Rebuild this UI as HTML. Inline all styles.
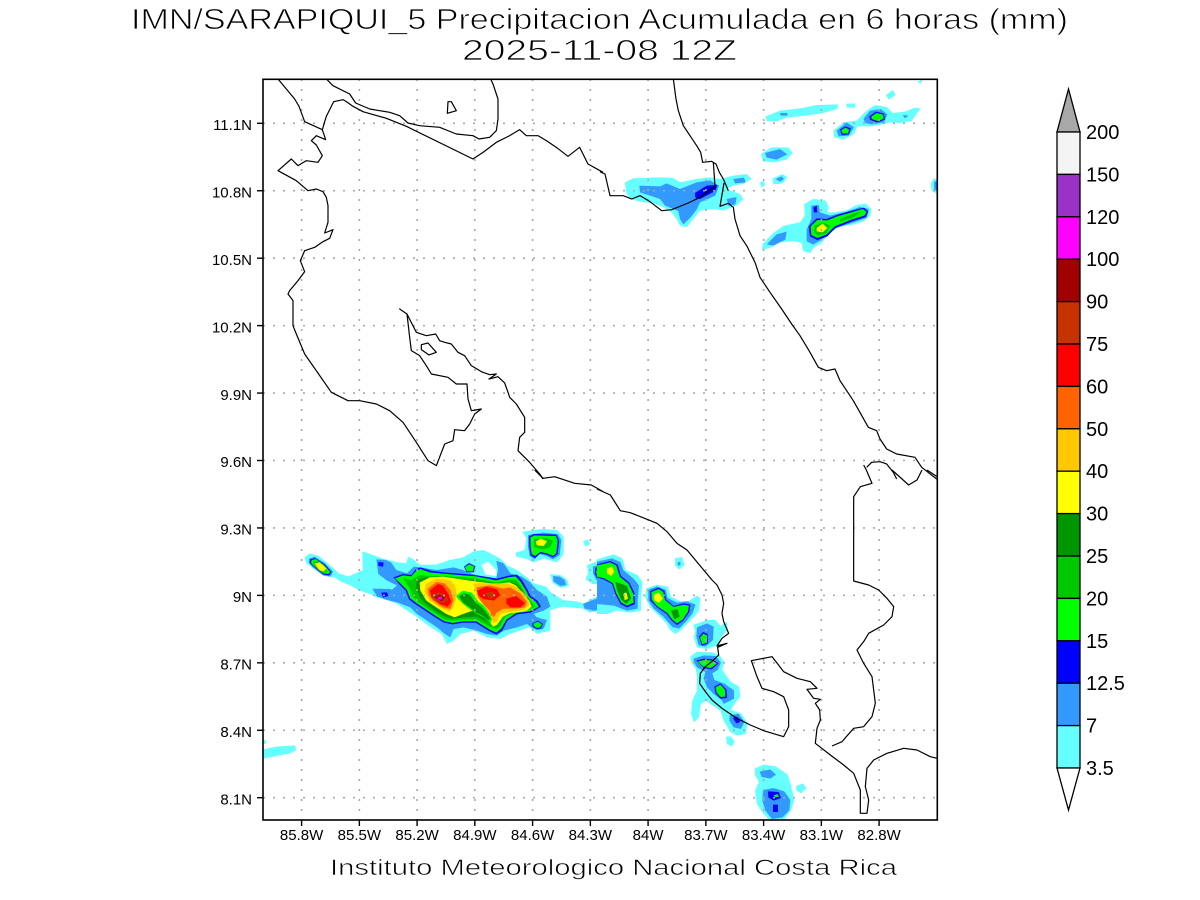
<!DOCTYPE html>
<html><head><meta charset="utf-8"><style>
html,body{margin:0;padding:0;background:#fff}
svg{display:block}
.c1{fill:#66ffff}.c2{fill:#3399ff}.c3{fill:#0000ff}.c4{fill:#00ff00}.c5{fill:#00c800}.c6{fill:#009600}
.c7{fill:#ffff00}.c8{fill:#ffc800}.c9{fill:#ff6400}.c10{fill:#ff0000}.c11{fill:#c83200}.c12{fill:#a00000}.c13{fill:#ff00ff}.cw{fill:#ffffff}
.coast{fill:none;stroke:#000;stroke-width:3.6;stroke-linejoin:round}
.grid{stroke:#a8a8a8;stroke-width:1.6;stroke-dasharray:2 8}
text{font-family:"Liberation Sans",sans-serif;fill:#000}
.thin{stroke:#fff;stroke-width:0.8}
.thinf{stroke:#fff;stroke-width:0.6}
</style></head><body>
<svg width="1200" height="900" viewBox="0 0 1200 900" xmlns="http://www.w3.org/2000/svg">
<rect width="1200" height="900" fill="#fff"/>
<defs><clipPath id="clip"><rect x="263" y="79.3" width="674.3" height="740.7"/></clipPath></defs>

<!-- Titles -->
<text class="thin" x="131" y="29" font-size="29" textLength="937" lengthAdjust="spacingAndGlyphs">IMN/SARAPIQUI_5 Precipitacion Acumulada en 6 horas (mm)</text>
<text class="thin" x="462" y="60" font-size="29" textLength="275" lengthAdjust="spacingAndGlyphs">2025-11-08 12Z</text>
<text class="thinf" x="330" y="875" font-size="22" textLength="567" lengthAdjust="spacingAndGlyphs">Instituto Meteorologico Nacional Costa Rica</text>

<g clip-path="url(#clip)">
<!-- Z10 precip top-right -->
<g transform="translate(600,79) scale(0.33333)">
<polygon class="c1" points="75,310 100,298 180,295 220,297 240,310 290,300 330,295 360,300 400,290 440,285 455,300 430,315 400,320 380,330 420,345 430,360 410,380 370,395 340,390 300,395 280,420 260,445 240,440 230,420 215,400 190,385 165,375 120,368 90,360 78,340"/>
<polygon class="c1" points="480,310 492,305 495,320 483,325"/>
<polygon class="c1" points="518,298 548,285 562,295 548,313 520,316"/>
<polygon class="c1" points="483,225 515,205 565,205 578,222 560,242 520,250 490,247"/>
<polygon class="c1" points="497,112 540,95 600,88 650,78 715,76 712,90 670,102 620,110 560,116 530,127 500,126"/>
<polygon class="c1" points="740,74 766,73 766,86 740,86"/>
<polygon class="c1" points="700,155 730,130 770,125 800,95 825,78 860,84 878,102 915,98 945,86 962,88 946,110 935,126 900,132 870,130 840,138 810,142 772,142 762,165 732,182 703,175"/>
<polygon class="c1" points="858,48 878,33 887,48 866,62"/>
<polygon class="c1" points="952,8 968,2 962,15"/>
<polygon class="c1" points="1000,300 1020,295 1020,350 995,335 992,315"/>
<polygon class="c1" points="488,495 520,462 552,440 600,430 614,410 613,375 640,360 677,365 686,385 682,400 702,400 740,394 770,378 797,374 814,390 810,412 790,427 760,437 720,442 700,452 680,472 665,492 640,507 632,522 610,517 605,492 580,486 540,490 510,507 486,512"/>
<polygon class="c2" points="118,320 180,322 200,313 240,330 290,310 330,304 357,320 346,350 300,370 290,392 270,417 250,436 240,420 235,396 210,386 195,380 180,360 150,350 120,340"/>
<polygon class="c2" points="400,300 432,296 437,310 405,313"/>
<polygon class="c2" points="380,360 410,354 406,376 386,381"/>
<polygon class="c2" points="527,300 545,292 552,300 540,308"/>
<polygon class="c2" points="495,222 540,210 562,226 530,242 500,236"/>
<polygon class="c2" points="540,102 562,102 562,110 542,110"/>
<polygon class="c2" points="710,155 740,130 762,145 746,170 716,172"/>
<polygon class="c2" points="790,120 810,95 842,90 862,106 852,130 816,136 796,132"/>
<polygon class="c2" points="908,108 925,110 915,118"/>
<polygon class="c2" points="1002,308 1020,305 1020,340 1003,332"/>
<polygon class="c2" points="500,496 530,466 560,458 556,482 520,500"/>
<polygon class="c2" points="620,452 634,420 634,380 656,378 660,400 690,410 740,398 780,384 806,390 801,416 770,427 710,447 690,462 665,482 640,497 620,487"/>
<polygon class="c3" points="285,342 320,320 352,318 346,336 300,360 286,356"/>
<polygon class="c3" points="720,152 736,142 752,148 747,166 726,168"/>
<polygon class="c3" points="808,112 828,98 852,104 855,122 830,130 810,122"/>
<polygon class="c3" points="626,442 650,418 680,420 710,408 752,396 792,386 805,398 797,414 756,427 706,447 682,472 652,483 630,472"/>
<polygon class="c3" points="640,385 650,380 652,400 642,400"/>
<polygon class="c4" points="724,153 737,146 748,152 744,163 728,164"/>
<polygon class="c4" points="814,112 830,102 850,107 850,120 832,126 815,120"/>
<polygon class="c4" points="632,442 652,423 682,424 712,412 754,400 788,390 800,399 793,410 754,422 704,442 680,466 652,477 634,468"/>
<polygon class="c5" points="645,440 670,430 690,440 680,462 655,470 642,460"/>
<polygon class="c5" points="720,420 770,400 785,398 760,415 720,428"/>
<polygon class="c7" points="650,447 668,434 682,447 668,460 650,457"/>
</g>

<!-- Z11 precip bottom-left -->
<g transform="translate(263,470) scale(0.33333)">
<polygon class="c1" points="125,262 140,250 168,258 200,285 228,310 258,320 272,336 262,346 236,336 214,322 185,318 160,302 130,280"/>
<polygon class="c1" points="298,244 330,255 360,266 400,276 430,280 435,260 452,268 470,284 520,284 560,270 600,262 632,244 662,240 692,255 712,266 732,286 762,300 792,322 812,340 850,350 862,366 900,390 940,394 962,400 1000,380 1020,372 1020,422 980,428 960,416 900,410 862,420 862,482 822,492 800,472 770,482 740,492 712,507 672,502 632,482 592,492 572,512 552,522 536,492 500,470 460,440 430,420 400,400 370,390 340,382 320,372 290,362 262,346 272,336 256,320 300,300"/>
<polygon class="cw" points="655,285 675,275 700,300 700,318 668,314"/>
<polygon class="c1" points="778,185 840,177 882,180 902,200 902,252 882,277 842,266 812,277 790,267 760,260 758,248 785,240 790,205"/>
<polygon class="c1" points="960,215 975,208 982,222 968,230"/>
<polygon class="c1" points="972,285 1020,268 1020,342 988,342 968,328 975,310"/>
<polygon class="c1" points="862,312 892,315 912,328 918,348 892,354 868,338"/>
<polygon class="c1" points="0,838 40,830 96,826 100,840 82,850 32,860 0,866"/>
<polygon class="c1" points="0,808 10,812 8,822 0,822"/>
<polygon class="c2" points="138,266 155,260 186,280 210,305 202,320 180,316 150,292 137,278"/>
<polygon class="c3" points="142,268 156,264 184,282 206,306 198,316 180,313 152,290 140,279"/>
<polygon class="c4" points="146,270 158,267 182,284 202,306 196,312 180,310 154,289 144,279"/>
<polygon class="c5" points="150,276 165,273 186,292 192,306 180,308 160,294"/>
<polygon class="c7" points="155,280 170,277 190,295 182,305 168,300"/>
<polygon class="c2" points="340,268 368,270 385,278 400,300 432,310 452,290 472,292 520,300 572,292 600,300 640,316 700,325 705,300 700,272 722,280 742,310 776,320 800,336 822,360 852,380 862,410 842,422 812,432 822,442 852,450 842,476 812,477 792,462 762,472 722,482 702,497 672,492 642,482 602,472 572,477 562,502 546,492 522,472 492,452 462,432 442,412 402,397 362,387 332,362 352,356 386,360 402,346 372,332 346,312"/>
<polygon class="c2" points="328,356 382,357 402,372 422,390 392,392 342,380"/>
<polygon class="c2" points="960,402 1000,386 1020,380 1020,420 990,422 965,416"/>
<polygon class="c2" points="795,195 840,188 885,192 895,210 890,255 870,268 850,258 830,252 815,268 800,258 795,230"/>
<polygon class="c2" points="990,290 1020,280 1020,332 1000,330 990,310"/>
<polygon class="c2" points="870,318 890,320 905,330 910,345 892,348 872,335"/>
<polygon class="c3" points="355,368 372,367 376,378 360,382"/>
<polygon class="c3" points="346,276 362,278 360,290 346,288"/>
<polygon class="c3" points="798,200 812,192 880,194 888,212 884,252 870,262 852,254 832,250 816,264 803,256 799,230"/>
<polygon class="c4" points="802,202 814,196 878,198 884,212 880,250 870,258 852,250 832,246 816,258 806,252 803,230"/>
<polygon class="c5" points="812,208 850,204 870,212 862,232 840,238 815,232"/>
<polygon class="c7" points="818,215 834,206 852,214 842,228 822,226"/>
<polygon class="c3" points="998,293 1020,286 1020,326 1002,324 995,310"/>
<polygon class="c4" points="1002,296 1020,290 1020,322 1005,320 999,308"/>
<polygon class="c3" points="392,322 420,312 445,315 458,298 472,292 502,302 542,307 602,312 642,316 702,326 742,316 762,314 778,332 793,358 803,378 823,392 834,410 803,428 762,433 733,452 718,482 700,493 678,483 638,458 600,458 570,463 543,458 518,443 488,423 458,403 438,388 428,362 408,342"/>
<polygon class="c4" points="396,325 420,316 445,319 460,302 472,297 500,307 540,311 600,316 640,319 700,331 740,321 758,319 773,336 788,360 798,380 818,395 828,410 800,424 760,429 730,449 715,476 700,488 680,479 640,454 600,454 570,459 545,454 520,439 490,419 460,399 441,384 432,360 412,340"/>
<polygon class="c5" points="420,325 445,330 470,315 500,318 540,318 600,322 640,326 700,338 740,328 760,330 775,350 790,375 805,395 815,410 795,420 760,425 725,442 712,468 700,478 680,470 640,448 600,448 570,452 545,448 520,432 490,412 465,395 448,378 440,355"/>
<polygon class="c6" points="460,330 490,322 540,322 600,328 640,332 700,342 745,336 765,345 785,372 800,398 805,410 790,418 755,422 722,436 708,462 698,470 682,460 640,440 600,442 572,446 548,440 520,425 492,405 472,385 460,355"/>
<polygon class="c7" points="470,338 500,322 540,320 580,326 620,332 660,337 700,342 740,337 760,347 780,372 798,392 806,410 790,423 740,430 720,440 702,465 690,470 676,450 660,432 630,422 600,432 575,442 550,432 520,412 490,392 472,362"/>
<polygon class="c4" points="578,378 600,362 626,368 646,395 662,406 672,420 692,440 682,460 662,442 642,432 620,417 600,402"/>
<polygon class="c6" points="588,380 602,370 620,374 638,398 655,410 668,425 682,445 676,452 660,438 640,428 620,412 600,398"/>
<polygon class="c8" points="488,342 520,326 560,330 576,346 582,376 572,410 560,426 530,412 500,392 484,366"/>
<polygon class="c8" points="632,340 680,340 730,340 760,350 790,376 800,405 782,420 740,426 712,432 702,455 692,460 680,432 660,402 642,382"/>
<polygon class="c9" points="494,356 520,336 545,340 562,360 572,390 562,417 540,412 510,392 497,376"/>
<polygon class="c10" points="500,362 525,342 540,347 556,372 565,396 554,410 530,402 506,382"/>
<polygon class="c11" points="505,378 525,366 545,374 556,390 542,400 515,392"/>
<polygon class="c12" points="514,382 530,374 546,384 536,394"/>
<polygon class="c13" points="524,381 536,380 537,388 525,388"/>
<polygon class="c9" points="640,352 680,346 720,356 742,352 772,370 792,396 786,412 760,416 722,416 702,427 692,442 680,422 660,402 646,382"/>
<polygon class="c10" points="642,362 670,350 702,358 712,376 692,392 660,387 646,376"/>
<polygon class="c10" points="730,386 760,378 786,400 772,412 742,412 730,400"/>
<polygon class="c11" points="664,370 690,364 702,378 682,387"/>
<polygon class="c9" points="682,420 694,422 694,436 684,436"/>
<polygon class="c2" points="602,290 618,278 638,288 634,308 610,308"/>
<polygon class="c3" points="604,290 618,280 636,289 632,306 611,306"/>
<polygon class="c4" points="606,291 619,283 633,290 630,304 612,304"/>
<polygon class="c2" points="805,460 825,448 845,460 838,478 820,480 806,472"/>
<polygon class="c3" points="808,460 825,452 840,462 834,475 822,477 809,470"/>
<polygon class="c4" points="811,461 825,455 837,463 831,472 822,474 812,468"/>
</g>

<!-- Z12 precip bottom-right -->
<g transform="translate(597,470) scale(0.33333)">
<polygon class="c1" points="0,268 50,253 76,265 86,300 122,315 136,336 132,385 132,422 100,428 60,422 30,432 0,432"/>
<polygon class="c2" points="0,275 45,265 70,276 80,302 110,326 126,346 122,390 122,416 90,422 50,407 0,402"/>
<polygon class="c3" points="0,283 40,273 62,284 72,318 97,338 112,368 114,402 90,412 70,402 55,372 45,342 20,328 0,322"/>
<polygon class="c4" points="0,286 40,277 58,287 68,320 94,341 108,370 110,398 90,407 73,398 58,370 48,340 22,325 0,320"/>
<polygon class="c6" points="55,335 90,348 102,385 88,402 72,388 60,360"/>
<polygon class="c7" points="30,295 45,290 52,305 43,318 30,310"/>
<polygon class="c7" points="80,370 88,367 93,386 83,391"/>
<polygon class="c1" points="148,355 180,344 212,350 222,380 250,394 275,393 300,377 310,385 306,421 291,441 271,461 251,481 236,492 220,481 209,461 179,431 159,411 144,381"/>
<polygon class="c2" points="154,359 180,349 206,359 212,384 240,398 270,394 296,404 286,431 266,456 246,476 226,471 200,441 170,416 154,391"/>
<polygon class="c3" points="160,363 185,353 202,363 207,388 230,408 260,400 280,404 277,426 259,452 240,465 224,452 209,432 180,412 160,391"/>
<polygon class="c4" points="163,366 185,357 199,366 204,390 230,411 260,404 276,407 273,425 257,449 240,460 226,449 211,429 181,409 164,389"/>
<polygon class="c6" points="222,422 242,417 248,440 232,448"/>
<polygon class="c7" points="170,375 185,367 198,385 186,399 172,391"/>
<polygon class="c1" points="234,265 255,261 263,285 246,299 234,286"/>
<polygon class="c2" points="242,276 250,276 250,286 242,286"/>
<polygon class="c1" points="288,465 330,450 356,450 370,468 390,455 392,480 372,502 362,526 330,537 300,532 290,502 295,482"/>
<polygon class="c2" points="300,472 330,460 350,470 348,510 326,530 305,526 298,500"/>
<polygon class="c3" points="306,500 318,486 332,492 333,520 315,527"/>
<polygon class="c4" points="309,503 319,491 330,496 330,518 316,523"/>
<polygon class="c1" points="280,560 300,545 345,547 367,555 382,576 376,600 400,634 426,650 430,680 412,702 402,720 432,730 452,760 446,792 420,797 400,786 380,752 370,722 340,702 326,692 312,702 306,742 291,757 282,732 286,692 300,662 300,622 296,596 284,580"/>
<polygon class="c2" points="290,566 320,556 356,558 372,578 362,600 346,610 352,630 382,641 411,661 411,686 392,696 380,702 374,690 350,672 330,652 320,626 325,606 300,592 290,576"/>
<polygon class="c3" points="298,572 320,566 345,568 365,580 344,598 320,594"/>
<polygon class="c4" points="302,575 320,570 343,571 360,580 342,594 320,591"/>
<polygon class="c3" points="352,650 370,640 388,658 390,684 370,686 356,670"/>
<polygon class="c4" points="356,652 370,644 384,660 385,680 371,681 359,668"/>
<polygon class="c2" points="398,736 425,731 442,756 432,777 410,772 397,752"/>
<polygon class="c3" points="408,744 421,740 430,756 418,760"/>
<polygon class="c1" points="387,800 401,799 413,815 405,830 390,822"/>
<polygon class="c1" points="474,895 500,884 536,889 572,914 582,946 592,990 582,1022 562,1048 520,1052 500,1032 480,1002 474,962 486,936 474,916"/>
<polygon class="c2" points="488,905 520,898 537,914 520,926 494,921"/>
<polygon class="c2" points="498,960 530,954 562,964 580,990 577,1021 557,1042 525,1047 505,1022 496,992"/>
<polygon class="c3" points="513,964 545,966 552,984 530,992 514,982"/>
<polygon class="c3" points="528,1004 543,1004 543,1026 528,1026"/>
<polygon class="c4" points="530,976 541,972 546,980 535,982"/>
<polygon class="c1" points="598,948 618,940 628,955 612,970 598,962"/>
</g>

<!-- Grid -->
<g class="grid">
<line x1="301.6" y1="79" x2="301.6" y2="820"/>
<line x1="359.35" y1="79" x2="359.35" y2="820"/>
<line x1="417.1" y1="79" x2="417.1" y2="820"/>
<line x1="474.85" y1="79" x2="474.85" y2="820"/>
<line x1="532.6" y1="79" x2="532.6" y2="820"/>
<line x1="590.35" y1="79" x2="590.35" y2="820"/>
<line x1="648.1" y1="79" x2="648.1" y2="820"/>
<line x1="705.85" y1="79" x2="705.85" y2="820"/>
<line x1="763.6" y1="79" x2="763.6" y2="820"/>
<line x1="821.35" y1="79" x2="821.35" y2="820"/>
<line x1="879.1" y1="79" x2="879.1" y2="820"/>
<line x1="263" y1="123.3" x2="937" y2="123.3"/>
<line x1="263" y1="190.74" x2="937" y2="190.74"/>
<line x1="263" y1="258.18" x2="937" y2="258.18"/>
<line x1="263" y1="325.62" x2="937" y2="325.62"/>
<line x1="263" y1="393.06" x2="937" y2="393.06"/>
<line x1="263" y1="460.5" x2="937" y2="460.5"/>
<line x1="263" y1="527.94" x2="937" y2="527.94"/>
<line x1="263" y1="595.38" x2="937" y2="595.38"/>
<line x1="263" y1="662.82" x2="937" y2="662.82"/>
<line x1="263" y1="730.26" x2="937" y2="730.26"/>
<line x1="263" y1="797.7" x2="937" y2="797.7"/>
</g>

<!-- Coastlines -->
<g transform="translate(263,79) scale(0.33333)">
<polyline class="coast" points="45,0 70,30 95,60 108,82 125,128 178,152 188,182 160,170 145,185 160,198 178,230 165,250 130,245 105,260 85,240 45,275 100,305 135,335 160,330 180,338 190,355 195,380 195,430 185,462 210,452 200,478 180,488 155,505 125,515 112,545 125,578 105,605 80,635 75,645 90,665 90,740 100,765 125,825 205,940 255,965 290,965 340,975 380,995 420,1030 460,1090 495,1145 520,1160 545,1095 570,1085 575,1052 605,1055 620,1035 635,1005 655,990 625,995 615,960 612,915 580,915 555,895 505,885 490,860 470,830 445,815 440,775 432,705 410,690 432,705 460,760 490,770 518,765 530,785 545,790 565,795 585,820 605,830 625,860 655,878 680,887 700,885 678,900 705,893 725,912 735,940 740,955 760,975 785,1015 785,1060 770,1075 765,1115 780,1130 800,1150 830,1185 840,1200"/>
<polyline class="coast" points="178,152 190,112 212,68 240,62 250,68 270,82 300,98 370,118 430,142 630,240 660,220 700,190 740,170 770,152 790,170 825,170 850,185 880,205 915,232 950,205 975,255 1020,280"/>
<polyline class="coast" points="190,0 210,20 260,45 278,72 320,90 380,100 410,110 435,132 470,140 530,145 580,165 630,170 648,180 680,175 700,155 705,120 705,60 690,15 683,0"/>
<polygon class="coast" points="555,68 565,68 580,95 553,103"/>
<polygon class="coast" points="475,797 495,792 520,820 498,828 475,812"/>
</g>
<g transform="translate(600,79) scale(0.33333)">
<polyline class="coast" points="220,0 228,60 235,95 250,140 270,170 290,200 302,220 308,250 335,247 348,255 358,280 370,300 385,335"/>
<polyline class="coast" points="340,250 345,322"/>
<polyline class="coast" points="0,278 15,285 30,350 70,350 95,360 120,350 150,368 185,395 215,392 265,372 300,355 345,322"/>
<polyline class="coast" points="372,312 360,382 385,373 400,385 405,420 420,470 440,500 465,550 480,595 510,640 545,690 575,735 600,770 630,820 655,865 680,875 705,870 720,905 760,965 805,1045 830,1055 840,1080 860,1110 890,1125 945,1135 965,1165 1010,1200 1020,1205"/>
<polyline class="coast" points="800,1165 815,1150 840,1148 860,1155 880,1180 890,1200"/>
</g>
<g transform="translate(263,470) scale(0.33333)">
<polyline class="coast" points="815,0 840,25 875,20 935,40 985,45 1020,65"/>
</g>
<g transform="translate(597,470) scale(0.33333)">
<polyline class="coast" points="0,57 40,75 70,122 100,128 150,148 180,160 210,185 240,220 270,240 295,270 320,300 345,330 360,345 375,375 380,400 375,430 380,455 395,490 375,505 360,528 390,520 362,532 365,555 355,565 340,578 325,590 310,610 308,640 325,665 345,690 375,715 420,745 460,765 500,782 560,800 575,770 575,720 560,680 530,665 495,655 480,620 463,572 525,560 560,605 600,625 640,635 660,655 630,658 650,685 670,688 655,700 668,720 670,750 660,775 655,820 700,855 740,885 770,910 790,960 790,1030 810,1030 815,990 805,950 810,895 830,870 870,850 920,835 960,840 1000,860 1020,865"/>
<polyline class="coast" points="705,828 735,815 770,775 800,770 825,740 835,700 825,620 800,580 780,540 800,515 815,490 860,465 885,440 890,410 870,385 845,360 815,345 770,333 770,80 790,50 825,40 808,0 800,-15"/>
<polyline class="coast" points="885,0 935,45 960,30 975,0"/>
<polyline class="coast" points="990,0 1020,20"/>
</g>
</g>

<!-- Frame -->
<rect x="263" y="79.3" width="674.3" height="740.7" fill="none" stroke="#000" stroke-width="1.6"/>

<!-- Ticks -->
<g stroke="#000" stroke-width="1.4">
<line x1="301.6" y1="820" x2="301.6" y2="826"/>
<line x1="359.35" y1="820" x2="359.35" y2="826"/>
<line x1="417.1" y1="820" x2="417.1" y2="826"/>
<line x1="474.85" y1="820" x2="474.85" y2="826"/>
<line x1="532.6" y1="820" x2="532.6" y2="826"/>
<line x1="590.35" y1="820" x2="590.35" y2="826"/>
<line x1="648.1" y1="820" x2="648.1" y2="826"/>
<line x1="705.85" y1="820" x2="705.85" y2="826"/>
<line x1="763.6" y1="820" x2="763.6" y2="826"/>
<line x1="821.35" y1="820" x2="821.35" y2="826"/>
<line x1="879.1" y1="820" x2="879.1" y2="826"/>
<line x1="257" y1="123.3" x2="263" y2="123.3"/>
<line x1="257" y1="190.74" x2="263" y2="190.74"/>
<line x1="257" y1="258.18" x2="263" y2="258.18"/>
<line x1="257" y1="325.62" x2="263" y2="325.62"/>
<line x1="257" y1="393.06" x2="263" y2="393.06"/>
<line x1="257" y1="460.5" x2="263" y2="460.5"/>
<line x1="257" y1="527.94" x2="263" y2="527.94"/>
<line x1="257" y1="595.38" x2="263" y2="595.38"/>
<line x1="257" y1="662.82" x2="263" y2="662.82"/>
<line x1="257" y1="730.26" x2="263" y2="730.26"/>
<line x1="257" y1="797.7" x2="263" y2="797.7"/>
</g>

<g font-size="15" text-anchor="middle">
<text x="301.6" y="840">85.8W</text>
<text x="359.35" y="840">85.5W</text>
<text x="417.1" y="840">85.2W</text>
<text x="474.85" y="840">84.9W</text>
<text x="532.6" y="840">84.6W</text>
<text x="590.35" y="840">84.3W</text>
<text x="648.1" y="840">84W</text>
<text x="705.85" y="840">83.7W</text>
<text x="763.6" y="840">83.4W</text>
<text x="821.35" y="840">83.1W</text>
<text x="879.1" y="840">82.8W</text>
</g>
<g font-size="15" text-anchor="end">
<text x="252" y="130">11.1N</text>
<text x="252" y="197.4">10.8N</text>
<text x="252" y="264.9">10.5N</text>
<text x="252" y="332.3">10.2N</text>
<text x="252" y="399.8">9.9N</text>
<text x="252" y="467.2">9.6N</text>
<text x="252" y="534.6">9.3N</text>
<text x="252" y="602.1">9N</text>
<text x="252" y="669.5">8.7N</text>
<text x="252" y="737">8.4N</text>
<text x="252" y="804.4">8.1N</text>
</g>

<!-- Colorbar -->
<g stroke="#000" stroke-width="1.3">
<polygon points="1057,132 1080,132 1068.5,89" fill="#a8a8a8"/>
<rect x="1057" y="132" width="23" height="42.4" fill="#f4f4f4"/>
<rect x="1057" y="174.4" width="23" height="42.4" fill="#9a32c8"/>
<rect x="1057" y="216.8" width="23" height="42.4" fill="#ff00ff"/>
<rect x="1057" y="259.2" width="23" height="42.4" fill="#a00000"/>
<rect x="1057" y="301.6" width="23" height="42.4" fill="#c83200"/>
<rect x="1057" y="344" width="23" height="42.4" fill="#ff0000"/>
<rect x="1057" y="386.4" width="23" height="42.4" fill="#ff6400"/>
<rect x="1057" y="428.8" width="23" height="42.4" fill="#ffc800"/>
<rect x="1057" y="471.2" width="23" height="42.4" fill="#ffff00"/>
<rect x="1057" y="513.6" width="23" height="42.4" fill="#009600"/>
<rect x="1057" y="556" width="23" height="42.4" fill="#00c800"/>
<rect x="1057" y="598.4" width="23" height="42.4" fill="#00ff00"/>
<rect x="1057" y="640.8" width="23" height="42.4" fill="#0000ff"/>
<rect x="1057" y="683.2" width="23" height="42.4" fill="#3399ff"/>
<rect x="1057" y="725.6" width="23" height="42.4" fill="#66ffff"/>
<polygon points="1057,768 1080,768 1068.5,810" fill="#ffffff"/>
</g>
<g font-size="20">
<text x="1086" y="139">200</text>
<text x="1086" y="181.4">150</text>
<text x="1086" y="223.8">120</text>
<text x="1086" y="266.2">100</text>
<text x="1086" y="308.6">90</text>
<text x="1086" y="351">75</text>
<text x="1086" y="393.4">60</text>
<text x="1086" y="435.8">50</text>
<text x="1086" y="478.2">40</text>
<text x="1086" y="520.6">30</text>
<text x="1086" y="563">25</text>
<text x="1086" y="605.4">20</text>
<text x="1086" y="647.8">15</text>
<text x="1086" y="690.2">12.5</text>
<text x="1086" y="732.6">7</text>
<text x="1086" y="775">3.5</text>
</g>
</svg>
</body></html>
